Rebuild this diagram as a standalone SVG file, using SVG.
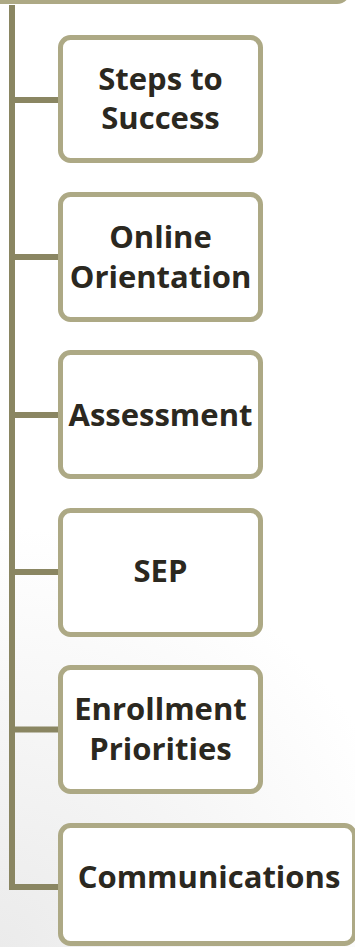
<svg xmlns="http://www.w3.org/2000/svg" width="355" height="947" viewBox="0 0 355 947">
  <defs>
    <radialGradient id="bg" cx="0" cy="947" r="420" gradientUnits="userSpaceOnUse">
      <stop offset="0" stop-color="#ebebeb"/>
      <stop offset="1" stop-color="#ffffff"/>
    </radialGradient>
  </defs>
  <style>
    .box { fill: #ffffff; stroke: #ADA985; stroke-width: 5; }
    .conn { fill: none; stroke: #8A8662; stroke-width: 6; }
    .lbl { font-family: "Open Sans", "DejaVu Sans", sans-serif; font-weight: bold; font-size: 31px; fill: #2B2820; text-anchor: middle; }
  </style>
  <rect x="0" y="0" width="355" height="947" fill="url(#bg)"/>
  <g id="top">
    <rect class="box" x="-20" y="-60" width="368" height="61.5" rx="11"/>
  </g>
  <g id="connectors">
    <path class="conn" d="M12 5 V887 H58"/>
    <path class="conn" d="M12 100 H58"/>
    <path class="conn" d="M12 257 H58"/>
    <path class="conn" d="M12 415 H58"/>
    <path class="conn" d="M12 572 H58"/>
    <path class="conn" d="M12 729.5 H58"/>
  </g>
  <g id="n1">
    <rect class="box" x="60.5" y="37.5" width="200" height="123" rx="10"/>
    <text class="lbl" x="160.5" y="90">Steps to</text>
    <text class="lbl" x="160.5" y="129">Success</text>
  </g>
  <g id="n2">
    <rect class="box" x="60.5" y="194.5" width="200" height="125" rx="10"/>
    <text class="lbl" x="160.5" y="248">Online</text>
    <text class="lbl" x="160.5" y="288">Orientation</text>
  </g>
  <g id="n3">
    <rect class="box" x="60.5" y="352.5" width="200" height="124" rx="10"/>
    <text class="lbl" x="160.5" y="426">Assessment</text>
  </g>
  <g id="n4">
    <rect class="box" x="60.5" y="510.5" width="200" height="124" rx="10"/>
    <text class="lbl" x="160.5" y="582">SEP</text>
  </g>
  <g id="n5">
    <rect class="box" x="60.5" y="667.5" width="200" height="124" rx="10"/>
    <text class="lbl" x="160.5" y="720">Enrollment</text>
    <text class="lbl" x="160.5" y="760">Priorities</text>
  </g>
  <g id="n6">
    <rect class="box" x="60.5" y="825.5" width="294" height="118" rx="10"/>
    <text class="lbl" x="209" y="888">Communications</text>
  </g>
</svg>
